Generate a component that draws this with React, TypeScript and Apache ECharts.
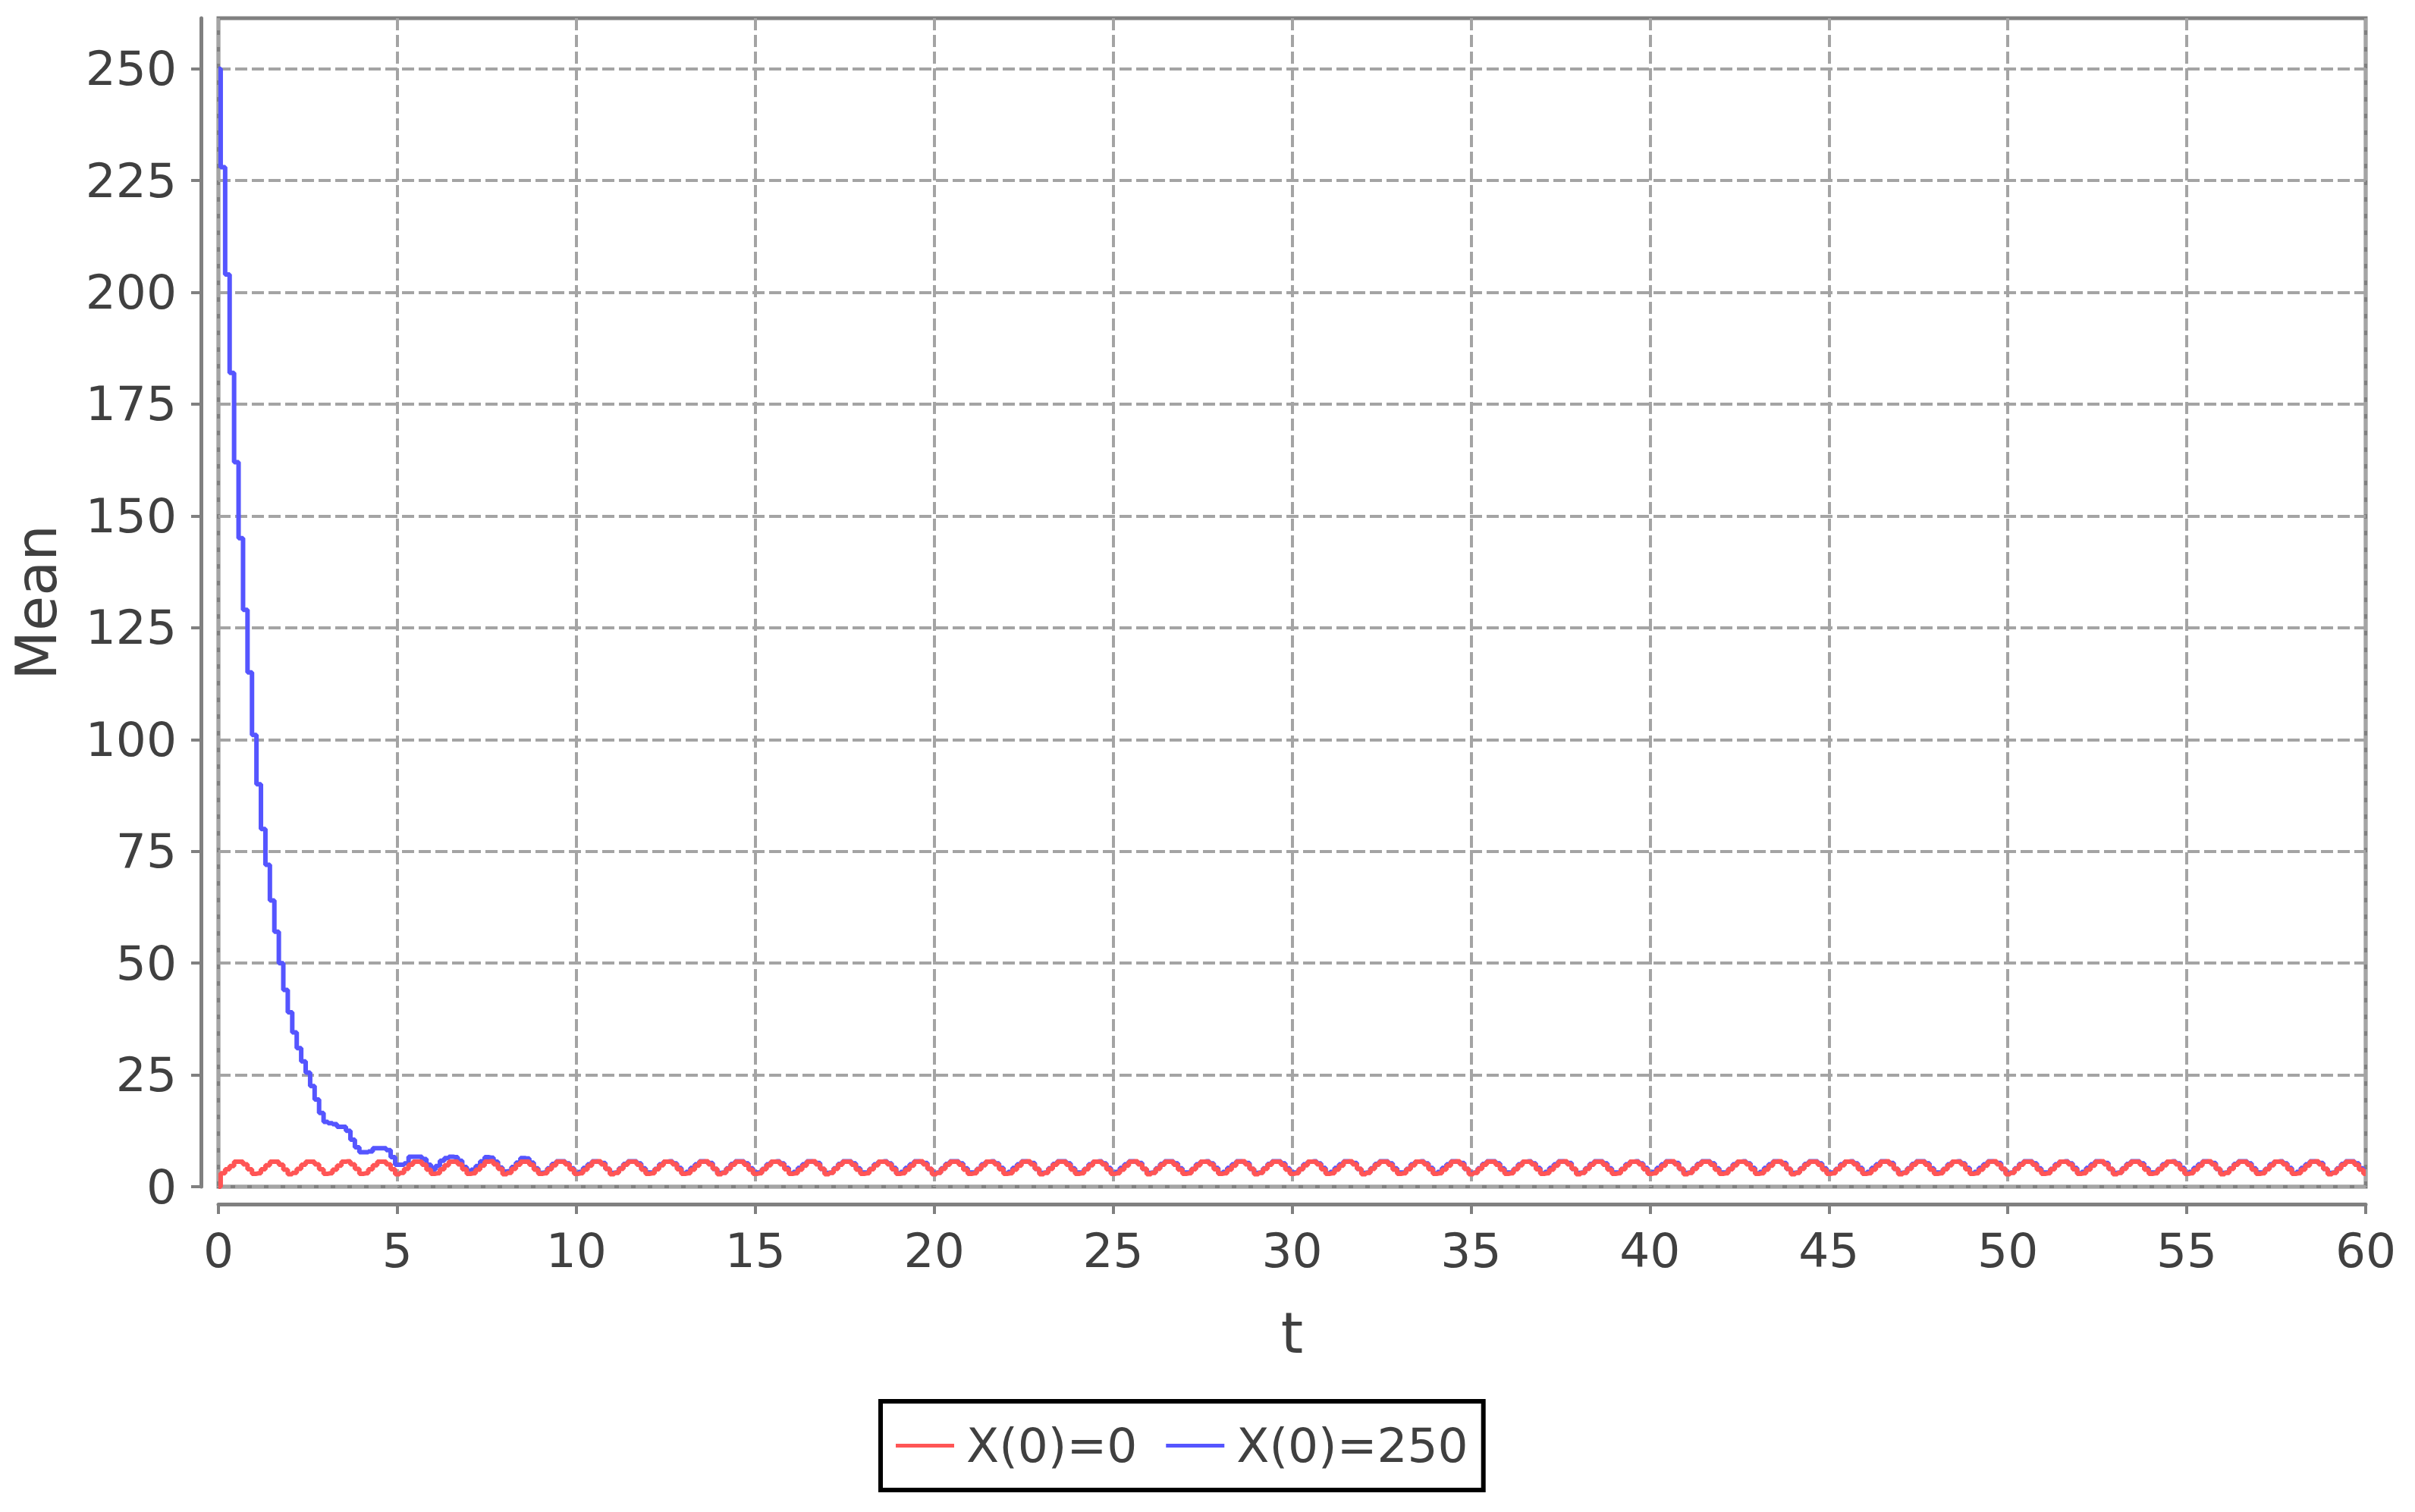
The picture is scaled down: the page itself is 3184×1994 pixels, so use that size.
import React, { useEffect, useRef } from "react";
import * as echarts from "echarts";

// time step between successive samples of each series
const DT = 0.125;

const seriesNames = ["X(0)=0", "X(0)=250"];
const seriesColors = ["#FF5555", "#5555FF"];

const xTicks = [0, 5, 10, 15, 20, 25, 30, 35, 40, 45, 50, 55, 60];
const yTicks = [0, 25, 50, 75, 100, 125, 150, 175, 200, 225, 250];
const Y_MAX = 261.3;

// Mean for X(0)=0, sampled every DT from t=0 to t=60
const redValues = [
  0, 3.0, 3.9, 4.6, 5.6, 5.6, 5.0, 3.9,
  2.9, 3.0, 3.9, 4.8, 5.6, 5.6, 4.9, 3.8,
  2.8, 3.1, 4.0, 4.9, 5.6, 5.6, 5.0, 3.9,
  2.9, 3.0, 3.8, 4.7, 5.6, 5.7, 5.0, 4.0,
  2.9, 3.0, 3.9, 4.8, 5.6, 5.6, 5.0, 3.9,
  2.8, 3.1, 4.0, 4.9, 5.6, 5.6, 4.9, 3.8,
  2.9, 3.0, 3.9, 4.8, 5.6, 5.6, 5.0, 3.9,
  2.9, 3.0, 3.8, 4.7, 5.6, 5.7, 5.0, 4.0,
  2.8, 3.1, 4.0, 4.9, 5.6, 5.6, 4.9, 3.8,
  2.9, 3.0, 3.9, 4.8, 5.6, 5.6, 5.0, 3.9,
  2.9, 3.0, 3.8, 4.7, 5.6, 5.7, 5.0, 4.0,
  2.8, 3.1, 4.0, 4.9, 5.6, 5.6, 4.9, 3.8,
  2.9, 3.0, 3.9, 4.8, 5.6, 5.6, 5.0, 3.9,
  2.9, 3.0, 3.8, 4.7, 5.6, 5.7, 5.0, 4.0,
  2.8, 3.1, 4.0, 4.9, 5.6, 5.6, 4.9, 3.8,
  2.9, 3.0, 3.9, 4.8, 5.6, 5.6, 5.0, 3.9,
  2.9, 3.0, 3.8, 4.7, 5.6, 5.7, 5.0, 4.0,
  2.8, 3.1, 4.0, 4.9, 5.6, 5.6, 4.9, 3.8,
  2.9, 3.0, 3.9, 4.8, 5.6, 5.6, 5.0, 3.9,
  2.9, 3.0, 3.8, 4.7, 5.6, 5.7, 5.0, 4.0,
  2.8, 3.1, 4.0, 4.9, 5.6, 5.6, 4.9, 3.8,
  2.9, 3.0, 3.9, 4.8, 5.6, 5.6, 5.0, 3.9,
  2.9, 3.0, 3.8, 4.7, 5.6, 5.7, 5.0, 4.0,
  2.8, 3.1, 4.0, 4.9, 5.6, 5.6, 4.9, 3.8,
  2.9, 3.0, 3.9, 4.8, 5.6, 5.6, 5.0, 3.9,
  2.9, 3.0, 3.8, 4.7, 5.6, 5.7, 5.0, 4.0,
  2.8, 3.1, 4.0, 4.9, 5.6, 5.6, 4.9, 3.8,
  2.9, 3.0, 3.9, 4.8, 5.6, 5.6, 5.0, 3.9,
  2.9, 3.0, 3.8, 4.7, 5.6, 5.7, 5.0, 4.0,
  2.8, 3.1, 4.0, 4.9, 5.6, 5.6, 4.9, 3.8,
  2.9, 3.0, 3.9, 4.8, 5.6, 5.6, 5.0, 3.9,
  2.9, 3.0, 3.8, 4.7, 5.6, 5.7, 5.0, 4.0,
  2.8, 3.1, 4.0, 4.9, 5.6, 5.6, 4.9, 3.8,
  2.9, 3.0, 3.9, 4.8, 5.6, 5.6, 5.0, 3.9,
  2.9, 3.0, 3.8, 4.7, 5.6, 5.7, 5.0, 4.0,
  2.8, 3.1, 4.0, 4.9, 5.6, 5.6, 4.9, 3.8,
  2.9, 3.0, 3.9, 4.8, 5.6, 5.6, 5.0, 3.9,
  2.9, 3.0, 3.8, 4.7, 5.6, 5.7, 5.0, 4.0,
  2.8, 3.1, 4.0, 4.9, 5.6, 5.6, 4.9, 3.8,
  2.9, 3.0, 3.9, 4.8, 5.6, 5.6, 5.0, 3.9,
  2.9, 3.0, 3.8, 4.7, 5.6, 5.7, 5.0, 4.0,
  2.8, 3.1, 4.0, 4.9, 5.6, 5.6, 4.9, 3.8,
  2.9, 3.0, 3.9, 4.8, 5.6, 5.6, 5.0, 3.9,
  2.9, 3.0, 3.8, 4.7, 5.6, 5.7, 5.0, 4.0,
  2.8, 3.1, 4.0, 4.9, 5.6, 5.6, 4.9, 3.8,
  2.9, 3.0, 3.9, 4.8, 5.6, 5.6, 5.0, 3.9,
  2.9, 3.0, 3.8, 4.7, 5.6, 5.7, 5.0, 4.0,
  2.8, 3.1, 4.0, 4.9, 5.6, 5.6, 4.9, 3.8,
  2.9, 3.0, 3.9, 4.8, 5.6, 5.6, 5.0, 3.9,
  2.9, 3.0, 3.8, 4.7, 5.6, 5.7, 5.0, 4.0,
  2.8, 3.1, 4.0, 4.9, 5.6, 5.6, 4.9, 3.8,
  2.9, 3.0, 3.9, 4.8, 5.6, 5.6, 5.0, 3.9,
  2.9, 3.0, 3.8, 4.7, 5.6, 5.7, 5.0, 4.0,
  2.8, 3.1, 4.0, 4.9, 5.6, 5.6, 4.9, 3.8,
  2.9, 3.0, 3.9, 4.8, 5.6, 5.6, 5.0, 3.9,
  2.9, 3.0, 3.8, 4.7, 5.6, 5.7, 5.0, 4.0,
  2.8, 3.1, 4.0, 4.9, 5.6, 5.6, 4.9, 3.8,
  2.9, 3.0, 3.9, 4.8, 5.6, 5.6, 5.0, 3.9,
  2.9, 3.0, 3.8, 4.7, 5.6, 5.7, 5.0, 4.0,
  2.8, 3.1, 4.0, 4.9, 5.6, 5.6, 4.9, 3.8,
  2.9,
];

// Mean for X(0)=250, sampled every DT from t=0 to t=60
const blueValues = [
  250, 228, 204, 182, 162, 145, 129, 115,
  101, 90, 80, 72, 64, 57, 50, 44,
  39, 34.5, 31, 28, 25.5, 22.5, 19.5, 16.5,
  14.5, 14.2, 14.0, 13.4, 13.4, 12.5, 10.5, 8.8,
  7.7, 7.7, 7.9, 8.6, 8.6, 8.6, 8.2, 6.6,
  4.9, 4.9, 5.2, 6.7, 6.7, 6.7, 6.2, 4.9,
  3.8, 4.6, 5.8, 6.4, 6.7, 6.6, 5.8, 4.4,
  3.6, 3.8, 4.6, 5.7, 6.6, 6.5, 5.6, 4.3,
  3.4, 3.5, 4.4, 5.4, 6.4, 6.3, 5.4, 4.1,
  3.1, 3.2, 4.1, 5.1, 5.7, 5.7, 5.2, 4.1,
  3.0, 3.3, 4.2, 5.0, 5.7, 5.6, 5.3, 4.0,
  3.1, 3.2, 4.1, 5.1, 5.7, 5.7, 5.2, 4.1,
  3.2, 3.2, 4.0, 5.0, 5.6, 5.7, 5.2, 4.2,
  3.0, 3.3, 4.2, 5.0, 5.7, 5.6, 5.3, 4.0,
  3.1, 3.2, 4.1, 5.1, 5.7, 5.7, 5.2, 4.1,
  3.2, 3.2, 4.0, 5.0, 5.6, 5.7, 5.2, 4.2,
  3.0, 3.3, 4.2, 5.0, 5.7, 5.6, 5.3, 4.0,
  3.1, 3.2, 4.1, 5.1, 5.7, 5.7, 5.2, 4.1,
  3.2, 3.2, 4.0, 5.0, 5.6, 5.7, 5.2, 4.2,
  3.0, 3.3, 4.2, 5.0, 5.7, 5.6, 5.3, 4.0,
  3.1, 3.2, 4.1, 5.1, 5.7, 5.7, 5.2, 4.1,
  3.2, 3.2, 4.0, 5.0, 5.6, 5.7, 5.2, 4.2,
  3.0, 3.3, 4.2, 5.0, 5.7, 5.6, 5.3, 4.0,
  3.1, 3.2, 4.1, 5.1, 5.7, 5.7, 5.2, 4.1,
  3.2, 3.2, 4.0, 5.0, 5.6, 5.7, 5.2, 4.2,
  3.0, 3.3, 4.2, 5.0, 5.7, 5.6, 5.3, 4.0,
  3.1, 3.2, 4.1, 5.1, 5.7, 5.7, 5.2, 4.1,
  3.2, 3.2, 4.0, 5.0, 5.6, 5.7, 5.2, 4.2,
  3.0, 3.3, 4.2, 5.0, 5.7, 5.6, 5.3, 4.0,
  3.1, 3.2, 4.1, 5.1, 5.7, 5.7, 5.2, 4.1,
  3.2, 3.2, 4.0, 5.0, 5.6, 5.7, 5.2, 4.2,
  3.0, 3.3, 4.2, 5.0, 5.7, 5.6, 5.3, 4.0,
  3.1, 3.2, 4.1, 5.1, 5.7, 5.7, 5.2, 4.1,
  3.2, 3.2, 4.0, 5.0, 5.6, 5.7, 5.2, 4.2,
  3.0, 3.3, 4.2, 5.0, 5.7, 5.6, 5.3, 4.0,
  3.1, 3.2, 4.1, 5.1, 5.7, 5.7, 5.2, 4.1,
  3.2, 3.2, 4.0, 5.0, 5.6, 5.7, 5.2, 4.2,
  3.0, 3.3, 4.2, 5.0, 5.7, 5.6, 5.3, 4.0,
  3.1, 3.2, 4.1, 5.1, 5.7, 5.7, 5.2, 4.1,
  3.2, 3.2, 4.0, 5.0, 5.6, 5.7, 5.2, 4.2,
  3.0, 3.3, 4.2, 5.0, 5.7, 5.6, 5.3, 4.0,
  3.1, 3.2, 4.1, 5.1, 5.7, 5.7, 5.2, 4.1,
  3.2, 3.2, 4.0, 5.0, 5.6, 5.7, 5.2, 4.2,
  3.0, 3.3, 4.2, 5.0, 5.7, 5.6, 5.3, 4.0,
  3.1, 3.2, 4.1, 5.1, 5.7, 5.7, 5.2, 4.1,
  3.2, 3.2, 4.0, 5.0, 5.6, 5.7, 5.2, 4.2,
  3.0, 3.3, 4.2, 5.0, 5.7, 5.6, 5.3, 4.0,
  3.1, 3.2, 4.1, 5.1, 5.7, 5.7, 5.2, 4.1,
  3.2, 3.2, 4.0, 5.0, 5.6, 5.7, 5.2, 4.2,
  3.0, 3.3, 4.2, 5.0, 5.7, 5.6, 5.3, 4.0,
  3.1, 3.2, 4.1, 5.1, 5.7, 5.7, 5.2, 4.1,
  3.2, 3.2, 4.0, 5.0, 5.6, 5.7, 5.2, 4.2,
  3.0, 3.3, 4.2, 5.0, 5.7, 5.6, 5.3, 4.0,
  3.1, 3.2, 4.1, 5.1, 5.7, 5.7, 5.2, 4.1,
  3.2, 3.2, 4.0, 5.0, 5.6, 5.7, 5.2, 4.2,
  3.0, 3.3, 4.2, 5.0, 5.7, 5.6, 5.3, 4.0,
  3.1, 3.2, 4.1, 5.1, 5.7, 5.7, 5.2, 4.1,
  3.2, 3.2, 4.0, 5.0, 5.6, 5.7, 5.2, 4.2,
  3.0, 3.3, 4.2, 5.0, 5.7, 5.6, 5.3, 4.0,
  3.1, 3.2, 4.1, 5.1, 5.7, 5.7, 5.2, 4.1,
  3.1,
];

const FONT = "'DejaVu Sans', 'Liberation Sans', sans-serif";
const TEXT_COLOR = "#404040";
const AXIS_COLOR = "#808080";

function toPairs(values: number[]) {
  return values.map((v, i) => [i * DT, v]);
}

export default function App() {
  const ref = useRef<HTMLDivElement | null>(null);

  useEffect(() => {
    if (!ref.current) return;
    const chart = echarts.init(ref.current, null, { renderer: "svg" });
    const seriesData = [redValues, blueValues];

    chart.setOption({
      animation: false,
      backgroundColor: "#ffffff",
      grid: {
        show: true,
        left: 288,
        right: 65,
        top: 24,
        bottom: 429,
        borderColor: AXIS_COLOR,
        borderWidth: 5,
        backgroundColor: "transparent",
      },
      xAxis: {
        type: "value",
        min: xTicks[0],
        max: xTicks[xTicks.length - 1],
        interval: xTicks[1] - xTicks[0],
        offset: 23,
        name: "t",
        nameLocation: "middle",
        nameGap: 132,
        nameTextStyle: { fontSize: 75, color: TEXT_COLOR, fontFamily: FONT },
        axisLine: { show: true, onZero: false, lineStyle: { color: AXIS_COLOR, width: 5 } },
        axisTick: { show: true, length: 13, lineStyle: { color: AXIS_COLOR, width: 4 } },
        axisLabel: { fontSize: 63, color: TEXT_COLOR, fontFamily: FONT, margin: 30 },
        splitLine: { show: true, lineStyle: { color: "#a4a4a4", width: 4, type: [16, 6] } },
      },
      yAxis: {
        type: "value",
        min: 0,
        max: Y_MAX,
        interval: 25,
        offset: 23,
        name: "Mean",
        nameLocation: "middle",
        nameRotate: 90,
        nameGap: 180,
        nameTextStyle: { fontSize: 75, color: TEXT_COLOR, fontFamily: FONT },
        axisLine: { show: true, onZero: false, lineStyle: { color: AXIS_COLOR, width: 5 } },
        axisTick: { show: true, length: 13, customValues: yTicks, lineStyle: { color: AXIS_COLOR, width: 4 } },
        axisLabel: { fontSize: 63, color: TEXT_COLOR, fontFamily: FONT, margin: 32, customValues: yTicks },
        splitLine: { show: true, lineStyle: { color: "#a4a4a4", width: 4, type: [16, 6] } },
      },
      legend: {
        left: 1161,
        top: 1848,
        orient: "horizontal",
        itemWidth: 77,
        itemHeight: 5,
        itemGap: 38,
        icon: "rect",
        padding: [27, 20, 27, 20],
        borderColor: "#000000",
        borderWidth: 6,
        backgroundColor: "#ffffff",
        textStyle: { fontSize: 63, color: TEXT_COLOR, fontFamily: FONT, padding: [0, 0, 0, 11] },
        data: seriesNames,
      },
      series: seriesNames.map((name, i) => ({
        name,
        type: "line",
        data: toPairs(seriesData[i]),
        step: "middle",
        showSymbol: false,
        symbol: "none",
        z: i === 0 ? 4 : 3,
        color: seriesColors[i],
        itemStyle: { color: seriesColors[i] },
        lineStyle: { color: seriesColors[i], width: 6 },
      })),
    });

    return () => {
      chart.dispose();
    };
  }, []);

  return (
    <div
      ref={ref}
      style={{ position: "absolute", left: 0, top: 0, width: 3184, height: 1994 }}
    />
  );
}
